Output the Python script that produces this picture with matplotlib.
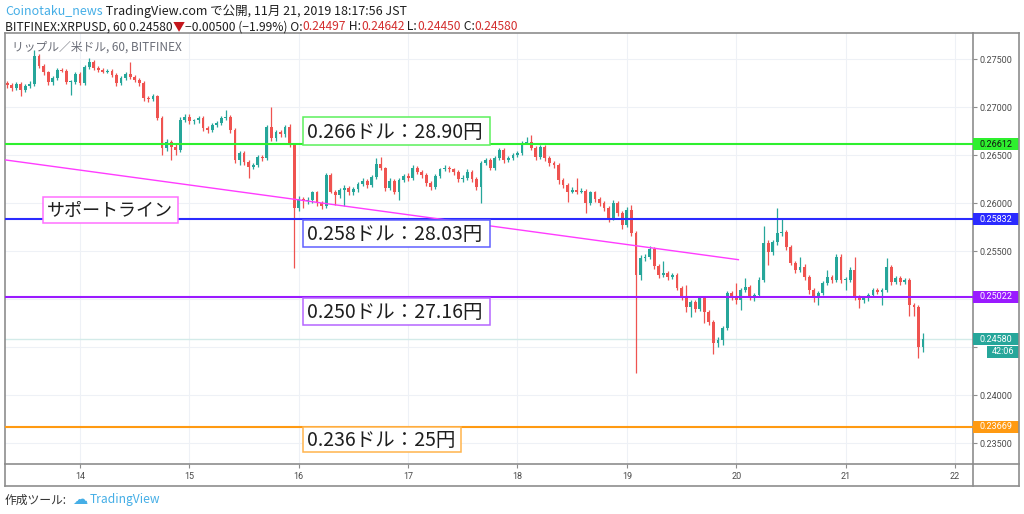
import matplotlib
matplotlib.use('Agg')
import matplotlib.pyplot as plt
import matplotlib.transforms as mtransforms
from matplotlib.patches import Rectangle
from matplotlib.lines import Line2D
import numpy as np

# XRPUSD 60min candles, BITFINEX, Nov 13 08:00 -> Nov 21 17:00
FIRST_DAY = 13
FIRST_HOUR = 8
first_open = 0.2725

closes = [
    .2723, .2720, .2724, .2718, .2722, .2724, .2753, .2743, .2736, .2726,
    .2730, .2739, .2738, .2726, .2726, .2734, .2725, .2742, .2747, .2741,
    .2739, .2737, .2738, .2733, .2725, .2730, .2734, .2731, .2728, .2725,
    .2709, .2708, .2711, .2689, .2657, .2664, .2658, .2655, .2687, .2690,
    .2685, .2686, .2689, .2678, .2676, .2681, .2683, .2689, .2690, .2676,
    .2645, .2652, .2643, .2638, .2640, .2648, .2647, .2679, .2668, .2674,
    .2672, .2679, .2661, .2595, .2604, .2602, .2603, .2611, .2600, .2597,
    .2629, .2612, .2608, .2614, .2616, .2611, .2615, .2620, .2623, .2619,
    .2627, .2641, .2636, .2616, .2623, .2612, .2624, .2628, .2626, .2637,
    .2632, .2629, .2621, .2617, .2628, .2635, .2637, .2635, .2632, .2625,
    .2626, .2632, .2625, .2617, .2642, .2645, .2637, .2647, .2655, .2645,
    .2647, .2650, .2652, .2663, .2664, .2657, .2648, .2658, .2647, .2642,
    .2640, .2624, .2619, .2612, .2614, .2612, .2613, .2600, .2611, .2604,
    .2600, .2595, .2584, .2600, .2590, .2577, .2593, .2569, .2525, .2543,
    .2544, .2552, .2534, .2525, .2527, .2523, .2525, .2512, .2502, .2492,
    .2497, .2490, .2501, .2487, .2476, .2454, .2457, .2470, .2506, .2502,
    .2499, .2509, .2513, .2502, .2504, .2520, .2558, .2549, .2559, .2569,
    .2570, .2554, .2538, .2530, .2533, .2523, .2509, .2501, .2506, .2517,
    .2523, .2520, .2544, .2520, .2520, .2530, .2502, .2499, .2501, .2504,
    .2509, .2507, .2509, .2533, .2518, .2522, .2518, .2520, .2494, .2492,
    .24497, .24580,
]

highs = [
    .2727, .2725, .2726, .2726, .2724, .2727, .2759, .2755, .2745, .2738,
    .2732, .2741, .2741, .2740, .2728, .2736, .2736, .2744, .2751, .2749,
    .2743, .2741, .2740, .2740, .2735, .2732, .2736, .2747, .2733, .2730,
    .2727, .2712, .2714, .2713, .2691, .2667, .2666, .2661, .2690, .2693,
    .2693, .2688, .2691, .2691, .2680, .2683, .2685, .2691, .2697, .2692,
    .2678, .2654, .2654, .2645, .2642, .2650, .2650, .2681, .2700, .2676,
    .2676, .2681, .2682, .2663, .2607, .2606, .2606, .2613, .2613, .2602,
    .2631, .2631, .2614, .2616, .2619, .2618, .2617, .2622, .2626, .2625,
    .2629, .2647, .2648, .2638, .2626, .2625, .2626, .2630, .2631, .2640,
    .2639, .2634, .2631, .2623, .2630, .2637, .2640, .2639, .2637, .2634,
    .2629, .2635, .2634, .2627, .2644, .2647, .2647, .2649, .2657, .2657,
    .2649, .2652, .2654, .2665, .2669, .2671, .2659, .2660, .2660, .2649,
    .2644, .2642, .2626, .2621, .2617, .2626, .2616, .2615, .2613, .2613,
    .2606, .2602, .2597, .2603, .2602, .2592, .2596, .2598, .2571, .2546,
    .2547, .2555, .2554, .2536, .2540, .2529, .2527, .2527, .2514, .2515,
    .2499, .2499, .2503, .2503, .2489, .2478, .2460, .2472, .2508, .2508,
    .2517, .2511, .2522, .2515, .2506, .2523, .2576, .2561, .2562, .2595,
    .2583, .2572, .2556, .2540, .2544, .2537, .2525, .2511, .2508, .2519,
    .2530, .2525, .2547, .2547, .2523, .2533, .2544, .2504, .2503, .2506,
    .2511, .2512, .2511, .2543, .2535, .2524, .2524, .2522, .2522, .2496,
    .2494, .24642,
]

lows = [
    .2720, .2717, .2718, .2711, .2716, .2720, .2722, .2741, .2733, .2723,
    .2723, .2728, .2736, .2724, .2713, .2724, .2723, .2723, .2740, .2739,
    .2737, .2735, .2735, .2731, .2722, .2723, .2728, .2729, .2726, .2722,
    .2706, .2705, .2706, .2686, .2650, .2654, .2645, .2650, .2653, .2684,
    .2682, .2682, .2683, .2675, .2673, .2674, .2679, .2681, .2687, .2673,
    .2642, .2640, .2640, .2626, .2635, .2638, .2644, .2645, .2665, .2665,
    .2669, .2669, .2658, .2532, .2592, .2595, .2599, .2600, .2597, .2594,
    .2595, .2610, .2598, .2605, .2597, .2608, .2608, .2612, .2618, .2616,
    .2617, .2625, .2634, .2613, .2614, .2609, .2603, .2622, .2623, .2624,
    .2630, .2626, .2618, .2614, .2615, .2626, .2633, .2632, .2629, .2622,
    .2622, .2624, .2622, .2614, .2600, .2640, .2634, .2634, .2645, .2642,
    .2643, .2645, .2648, .2650, .2661, .2655, .2645, .2646, .2644, .2639,
    .2637, .2620, .2616, .2601, .2610, .2609, .2610, .2590, .2598, .2601,
    .2597, .2592, .2580, .2582, .2587, .2573, .2575, .2566, .2423, .2520,
    .2540, .2542, .2531, .2522, .2523, .2520, .2521, .2509, .2499, .2487,
    .2481, .2487, .2488, .2475, .2473, .2443, .2450, .2452, .2468, .2499,
    .2495, .2489, .2507, .2499, .2498, .2502, .2518, .2535, .2546, .2556,
    .2566, .2551, .2535, .2527, .2528, .2520, .2505, .2497, .2494, .2504,
    .2515, .2517, .2518, .2517, .2509, .2518, .2499, .2491, .2496, .2498,
    .2502, .2505, .2494, .2507, .2515, .2516, .2515, .2516, .2482, .2482,
    .2439, .24450,
]

# horizontal levels drawn by the author
level_prices = [0.26612, 0.25832, 0.25022, 0.23669]
level_colors = ['#2ef02e', '#2b2bff', '#9a1aff', '#ff9a12']
level_edge = ['#5cf05c', '#6060ff', '#b566ff', '#ffb44d']
level_texts = ['0.266ドル：28.90円', '0.258ドル：28.03円', '0.250ドル：27.16円', '0.236ドル：25円']
tag_text_colors = ['#111111', 'white', 'white', 'white']

# support (trend) line
trend_x = [13.31, 20.02]
trend_y = [0.2645, 0.2541]

last_price = 0.24580
countdown = '42:06'

y_ticks = [0.235, 0.240, 0.245, 0.250, 0.255, 0.260, 0.265, 0.270, 0.275]
hidden_y_ticks = [0.245, 0.250]   # sit under the price tags on the axis
x_ticks = [14, 15, 16, 17, 18, 19, 20, 21, 22]

W, H = 1024, 514
JP = ['Noto Sans CJK JP', 'DejaVu Sans']
GREEN = '#26a69a'
RED = '#ef5350'
FRAME = '#8d8d8d'


def fx(px):
    return px / W


def fy(py):
    return 1 - py / H


def frame_line(fig, x0, y0, x1, y1):
    fig.add_artist(Line2D([fx(x0), fx(x1)], [fy(y0), fy(y1)], color=FRAME, lw=1.2,
                          transform=fig.transFigure))


def text_runs(fig, x_px, y_px, runs, size):
    """Draw several differently coloured pieces of text one after the other."""
    renderer = fig.canvas.get_renderer()
    x = x_px
    for s, color in runs:
        t = fig.text(fx(x), fy(y_px), s, fontsize=size, color=color, family=JP,
                     ha='left', va='center')
        x += t.get_window_extent(renderer).width
    return x


def label_box(fig, x0, y0, x1, y1, text, edge, size):
    fig.add_artist(Rectangle((fx(x0), fy(y1)), fx(x1) - fx(x0), fy(y0) - fy(y1),
                             transform=fig.transFigure, facecolor='white',
                             edgecolor=edge, lw=1.1, zorder=5))
    fig.text(fx(x0 + 4), fy((y0 + y1) / 2 + 1), text, fontsize=size, color='#1e1e1e',
             family=JP, ha='left', va='center', zorder=6)


def main():
    fig = plt.figure(figsize=(W / 100, H / 100), dpi=100)
    ax = fig.add_axes([fx(5), fy(464), fx(973) - fx(5), fy(33) - fy(464)])

    n = len(closes)
    t = FIRST_DAY + (FIRST_HOUR + np.arange(n)) / 24
    c = np.array(closes)
    o = np.array([first_open] + closes[:-1])
    hi = np.maximum(np.array(highs), np.maximum(o, c))
    lo = np.minimum(np.array(lows), np.minimum(o, c))
    cols = np.where(c >= o, GREEN, RED)

    # candles
    ax.vlines(t, lo, hi, colors=cols, lw=0.9, zorder=3)
    body = np.maximum(np.abs(c - o), 0.00006)
    ax.bar(t, body, bottom=np.minimum(o, c), width=0.62 / 24, color=cols, lw=0, zorder=4)

    # levels + trend line
    for p, col in zip(level_prices, level_colors):
        ax.axhline(p, color=col, lw=1.5, zorder=5)
    ax.axhline(last_price, color='#d3ebe9', lw=1.0, zorder=2)
    ax.plot(trend_x, trend_y, color='#ff3cff', lw=1.0, zorder=5)

    ax.set_xlim(13.314, 22.165)
    ax.set_ylim(0.23282, 0.27771)

    ax.set_xticks(x_ticks)
    ax.set_xticklabels([str(d) for d in x_ticks])
    ax.yaxis.tick_right()
    ax.set_yticks(y_ticks)
    ax.set_yticklabels(['' if v in hidden_y_ticks else f'{v:.5f}' for v in y_ticks])
    ax.tick_params(axis='both', length=3, width=0.8, color=FRAME, labelsize=6.5,
                   labelcolor='#4a4a4a')
    ax.tick_params(axis='y', pad=2)
    ax.tick_params(axis='x', pad=3)
    for lab in ax.get_xticklabels() + ax.get_yticklabels():
        lab.set_family('Roboto')
    ax.grid(True, color='#eef1f6', lw=0.8)
    ax.set_axisbelow(True)
    for sp in ax.spines.values():
        sp.set_color(FRAME)
        sp.set_linewidth(1.2)

    # outer frame around time and price axes
    frame_line(fig, 973, 33, 1019, 33)
    frame_line(fig, 1019, 33, 1019, 486)
    frame_line(fig, 5, 486, 1019, 486)
    frame_line(fig, 5, 464, 5, 486)
    frame_line(fig, 973, 464, 1019, 464)
    frame_line(fig, 973, 464, 973, 486)

    # price tags on the right axis
    blend = mtransforms.blended_transform_factory(fig.transFigure, ax.transData)
    tag_h = 12 / 9600
    tags = list(zip(level_prices, level_colors, tag_text_colors))
    tags.append((last_price, GREEN, 'white'))
    for p, bg, fg in tags:
        ax.add_artist(Rectangle((fx(973), p - tag_h / 2), fx(1019) - fx(973), tag_h,
                                transform=blend, facecolor=bg, edgecolor='none',
                                clip_on=False, zorder=10))
        ax.text(fx(996), p, f'{p:.5f}', transform=blend, ha='center', va='center',
                fontsize=6.5, color=fg, family='Roboto', clip_on=False, zorder=11)
    cd_p = last_price - 12.5 / 9600
    ax.add_artist(Rectangle((fx(987), cd_p - tag_h / 2), fx(1019) - fx(987), tag_h,
                            transform=blend, facecolor=GREEN, edgecolor='none',
                            clip_on=False, zorder=10))
    ax.text(fx(1003), cd_p, countdown, transform=blend, ha='center', va='center',
            fontsize=6.5, color='white', family='Roboto', clip_on=False, zorder=11)

    # annotation boxes
    boxes = [(303, 117, 490, 145), (303, 220, 490, 247), (303, 298, 490, 325), (303, 427, 461, 452)]
    for (x0, y0, x1, y1), txt, edge in zip(boxes, level_texts, level_edge):
        label_box(fig, x0, y0, x1, y1, txt, edge, 14)
    label_box(fig, 43, 197, 178, 223, 'サポートライン', '#ff70ff', 13)

    # header
    fig.text(fx(12), fy(47), 'リップル／米ドル, 60, BITFINEX', fontsize=8.5, color='#6b6e78',
             family=JP, ha='left', va='center')
    text_runs(fig, 5, 11, [('Coinotaku_news', '#45aee6'),
                           (' TradingView.com で公開, 11月 21, 2019 18:17:56 JST', '#1e1e1e')], 9.0)
    down_red = '#c4161c'
    val_red = '#d32f2f'
    text_runs(fig, 5, 27, [('BITFINEX:XRPUSD, 60 0.24580', '#1e1e1e'), ('▼', down_red),
                           ('−0.00500 (−1.99%) O:', '#1e1e1e'), ('0.24497', val_red),
                           (' H:', '#1e1e1e'), ('0.24642', val_red),
                           (' L:', '#1e1e1e'), ('0.24450', val_red),
                           (' C:', '#1e1e1e'), ('0.24580', val_red)], 8.7)

    # footer
    fig.text(fx(5), fy(500), '作成ツール:', fontsize=8.5, color='#333333', family=JP,
             ha='left', va='center')
    fig.text(fx(72), fy(499), '☁', fontsize=11, color='#45aee6', family='DejaVu Sans',
             ha='left', va='center')
    fig.text(fx(90), fy(500), 'TradingView', fontsize=8.7, color='#45aee6', family=JP,
             ha='left', va='center')

    fig.savefig('out.png', dpi=100, facecolor='white')
    plt.close(fig)


if __name__ == '__main__':
    main()
